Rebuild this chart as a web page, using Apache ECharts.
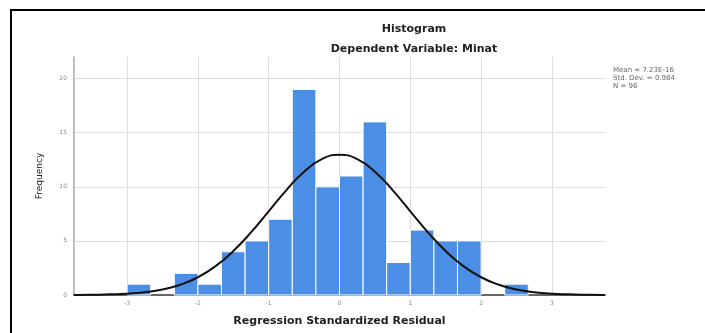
<!DOCTYPE html>
<html>
<head>
<meta charset="utf-8">
<script src="https://cdn.jsdelivr.net/npm/echarts@6/dist/echarts.min.js"></script>
<style>
html,body{margin:0;padding:0;background:#fff;}
#chart{width:705px;height:333px;}
</style>
</head>
<body>
<div id="chart"></div>
<script>
// Histogram bins (start of each 1/3-wide bin) and frequencies
var binStarts = [-3, -2.6667, -2.3333, -2, -1.6667, -1.3333, -1, -0.6667, -0.3333, 0, 0.3333, 0.6667, 1, 1.3333, 1.6667, 2, 2.3333];
var binCounts = [1, 0, 2, 1, 4, 5, 7, 19, 10, 11, 16, 3, 6, 5, 5, 0, 1];
var binWidth = 0.3333;
// Normal curve
var curveX = [-3.75, -3.5, -3.25, -3, -2.75, -2.5, -2.25, -2, -1.75, -1.5, -1.25, -1, -0.75, -0.5, -0.25, 0, 0.25, 0.5, 0.75, 1, 1.25, 1.5, 1.75, 2, 2.25, 2.5, 2.75, 3, 3.25, 3.5, 3.75];
var curveY = [0.01, 0.02, 0.06, 0.12, 0.26, 0.51, 0.95, 1.64, 2.67, 4.06, 5.79, 7.74, 9.70, 11.40, 12.56, 12.97, 12.56, 11.40, 9.70, 7.74, 5.79, 4.06, 2.67, 1.64, 0.95, 0.51, 0.26, 0.12, 0.06, 0.02, 0.01];
var xTicks = [-3, -2, -1, 0, 1, 2, 3];
var yTicks = [0, 5, 10, 15, 20];
var statsLines = ['Mean = 7.23E-16', 'Std. Dev. = 0.984', 'N = 96'];

var barData = binStarts.map(function (s, i) { return [s, s + binWidth, binCounts[i]]; }).filter(function (d) { return d[2] > 0; });
var curveData = curveX.map(function (x, i) { return [x, curveY[i]]; });

var chart = echarts.init(document.getElementById('chart'));
chart.setOption({
  animation: false,
  title: [
    { text: 'Histogram', left: 409, top: 19, textAlign: 'center',
      textStyle: { fontFamily: 'DejaVu Sans', fontSize: 11, fontWeight: 'bold', color: '#222' } },
    { text: 'Dependent Variable: Minat', left: 409, top: 39, textAlign: 'center',
      textStyle: { fontFamily: 'DejaVu Sans', fontSize: 11, fontWeight: 'bold', color: '#222' } }
  ],
  grid: { left: 74, right: 100, top: 57, bottom: 38 },
  xAxis: {
    type: 'value', min: -3.75, max: 3.75,
    name: 'Regression Standardized Residual', nameLocation: 'middle', nameGap: 21,
    nameTextStyle: { fontFamily: 'DejaVu Sans', fontSize: 11, fontWeight: 'bold', color: '#222' },
    axisLine: { show: true, onZero: false, lineStyle: { color: '#666', width: 2 } },
    axisTick: { show: false, customValues: xTicks },
    axisLabel: { customValues: xTicks, fontSize: 6, color: '#888', margin: 5, fontFamily: 'DejaVu Sans' },
    splitLine: { show: true, lineStyle: { color: '#ddd', width: 1 } }
  },
  yAxis: {
    type: 'value', min: 0, max: 22, interval: 5,
    name: 'Frequency', nameLocation: 'middle', nameGap: 30,
    nameTextStyle: { fontFamily: 'DejaVu Sans', fontSize: 9, color: '#222' },
    axisLine: { show: true, onZero: false, lineStyle: { color: '#aaa', width: 1.5 } },
    axisTick: { show: false },
    axisLabel: { fontSize: 6, color: '#888', margin: 7, showMaxLabel: false, fontFamily: 'DejaVu Sans' },
    splitLine: { show: true, showMaxLine: false, lineStyle: { color: '#ddd', width: 1 } }
  },
  graphic: [
    { type: 'line', shape: { x1: 10, y1: 10, x2: 705, y2: 10 }, style: { stroke: '#000', lineWidth: 2 } },
    { type: 'line', shape: { x1: 11, y1: 10, x2: 11, y2: 333 }, style: { stroke: '#000', lineWidth: 2 } },
    { type: 'text', left: 613, top: 66,
      style: { text: statsLines.join('\n'), fontSize: 7, lineHeight: 8, fill: '#666', fontFamily: 'DejaVu Sans' } }
  ],
  series: [
    {
      type: 'custom',
      data: barData,
      renderItem: function (params, api) {
        var p0 = api.coord([api.value(0), 0]);
        var p1 = api.coord([api.value(1), api.value(2)]);
        return {
          type: 'rect',
          shape: { x: p0[0], y: p1[1], width: p1[0] - p0[0], height: p0[1] - p1[1] },
          style: { fill: '#4a8ee6', stroke: '#fff', lineWidth: 1 }
        };
      },
      encode: { x: [0, 1], y: 2 },
      z: 2
    },
    {
      type: 'line',
      data: curveData,
      smooth: true,
      showSymbol: false,
      lineStyle: { color: '#111', width: 2 },
      z: 3
    }
  ]
});
</script>
</body>
</html>
